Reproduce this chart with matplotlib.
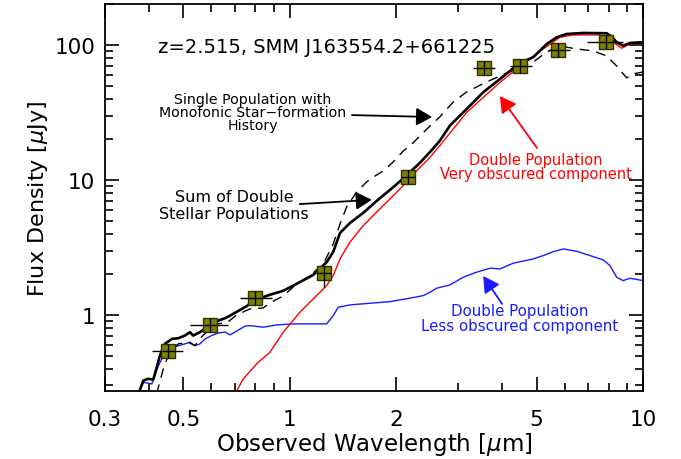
import numpy as np
import matplotlib
matplotlib.use("Agg")
import matplotlib.pyplot as plt
from matplotlib.ticker import FixedLocator, FixedFormatter, NullFormatter

# Sum of double stellar populations (black solid)
wl_sum = [0.373, 0.385, 0.397, 0.411, 0.429, 0.443, 0.464, 0.484, 0.505, 0.522,
          0.533, 0.557, 0.576, 0.594, 0.628, 0.656, 0.678, 0.755, 0.797, 0.879,
          0.959, 1.069, 1.166, 1.272, 1.328, 1.388, 1.481, 1.615, 1.762, 1.922,
          2.092, 2.337, 2.495, 2.66, 2.842, 3.17, 3.53, 3.94, 4.48, 4.89,
          5.34, 5.70, 6.08, 6.78, 7.89, 8.17, 8.42, 8.79, 9.19, 10.0]
f_sum = [0.26, 0.326, 0.336, 0.332, 0.499, 0.610, 0.664, 0.672, 0.703, 0.745,
         0.703, 0.745, 0.788, 0.843, 0.907, 0.945, 0.988, 1.16, 1.29, 1.41,
         1.51, 1.75, 1.98, 2.46, 2.93, 4.05, 4.80, 5.70, 6.99, 8.43,
         10.2, 13.4, 16.1, 19.5, 25.3, 33.6, 44.6, 56.0, 73.6, 81.1,
         101.7, 114, 120.6, 122.7, 122.1, 114.6, 104.7, 98.8, 103.5, 104.7]

# single population, monotonic SFH (black dashed)
wl_single = [0.42, 0.4386, 0.453, 0.464, 0.484, 0.516, 0.539, 0.563, 0.594, 0.621,
             0.663, 0.708, 0.771, 0.842, 0.879, 0.959, 1.046, 1.14, 1.245, 1.328,
             1.388, 1.449, 1.547, 1.651, 1.724, 1.84, 1.964, 2.096, 2.19, 2.337,
             2.495, 2.66, 2.904, 3.17, 3.61, 3.94, 4.39, 4.89, 5.34, 5.82,
             6.49, 7.23, 7.89, 8.42, 8.99, 9.38, 10.0]
f_single = [0.26, 0.398, 0.499, 0.56, 0.610, 0.628, 0.592, 0.687, 0.788, 0.858,
            0.872, 1.0, 1.107, 1.127, 1.227, 1.383, 1.697, 1.945, 2.39, 3.36,
            4.72, 6.31, 8.15, 9.66, 10.5, 11.66, 13.6, 16.4, 17.86, 21.2,
            25.1, 29.3, 37.8, 44.9, 53.2, 58.9, 66.4, 74.8, 88.7, 98.3,
            93.4, 90.3, 82.9, 69.9, 57.0, 61.0, 63.1]

# double population - very obscured component (red)
wl_obsc = [0.70, 0.739, 0.806, 0.879, 0.959, 1.069, 1.166, 1.272, 1.328, 1.388,
           1.481, 1.615, 1.762, 1.922, 2.096, 2.288, 2.495, 2.66, 3.17, 3.94,
           4.39, 5.22, 5.82, 6.35, 7.55, 8.24, 8.70, 9.19, 10.0]
f_obsc = [0.26, 0.336, 0.434, 0.529, 0.745, 1.047, 1.314, 1.648, 1.955, 2.60,
          3.46, 4.59, 5.77, 7.23, 9.07, 11.7, 14.7, 17.95, 31.7, 52.9,
          66.4, 93.4, 114, 118.6, 118.6, 104.7, 94.5, 101.7, 103.5]

# double population - less obscured component (blue)
wl_less = [0.373, 0.385, 0.407, 0.425, 0.439, 0.448, 0.479, 0.505, 0.522, 0.539,
           0.557, 0.576, 0.601, 0.628, 0.656, 0.678, 0.747, 0.771, 0.842, 0.919,
           1.023, 1.272, 1.328, 1.372, 1.481, 1.69, 1.922, 2.19, 2.388, 2.495,
           2.606, 2.842, 3.10, 3.38, 3.69, 3.94, 4.29, 4.89, 5.22, 5.57,
           5.95, 6.49, 7.08, 7.72, 8.06, 8.42, 8.79, 9.19, 10.0]
f_less = [0.26, 0.317, 0.308, 0.421, 0.499, 0.544, 0.586, 0.61, 0.628, 0.592,
          0.61, 0.664, 0.703, 0.736, 0.745, 0.711, 0.825, 0.833, 0.811, 0.843,
          0.858, 0.858, 0.988, 1.14, 1.186, 1.22, 1.254, 1.33, 1.39, 1.473,
          1.577, 1.668, 1.902, 2.072, 2.218, 2.192, 2.415, 2.60, 2.75, 2.94,
          3.08, 2.96, 2.75, 2.556, 2.32, 1.902, 1.795, 1.87, 1.795]

# photometry
phot_wl = [0.453, 0.594, 0.797, 1.25, 2.16, 3.55, 4.48, 5.73, 7.87]
phot_f = [0.544, 0.843, 1.33, 2.05, 10.5, 67.2, 69.5, 92.3, 104.7]
phot_xlo = [0.046, 0.072, 0.074, 0.0, 0.0, 0.25, 0.28, 0.34, 0.94]
phot_xhi = [0.047, 0.076, 0.092, 0.0, 0.0, 0.25, 0.36, 0.48, 0.88]
phot_ylo = [0.0, 0.0, 0.0, 0.45, 0.0, 0.0, 0.0, 0.0, 0.0]
phot_yhi = [0.0, 0.0, 0.0, 0.27, 0.0, 0.0, 0.0, 0.0, 0.0]

xticks = [0.3, 0.5, 1, 2, 5, 10]
xticklabels = ["0.3", "0.5", "1", "2", "5", "10"]
yticks = [1, 10, 100]
yticklabels = ["1", "10", "100"]


def main():
    fig = plt.figure(figsize=(6.81, 4.60), dpi=100)
    ax = fig.add_axes([0.1542, 0.1478, 0.79, 0.8413])

    ax.plot(wl_less, f_less, color="#1a1aff", lw=1.0, zorder=2)
    ax.plot(wl_obsc, f_obsc, color="red", lw=1.0, zorder=2)
    ax.plot(wl_single, f_single, color="k", lw=1.0, ls=(0, (7, 5)), zorder=3)
    ax.plot(wl_sum, f_sum, color="k", lw=1.9, zorder=3)

    ax.errorbar(phot_wl, phot_f, xerr=[phot_xlo, phot_xhi], yerr=[phot_ylo, phot_yhi],
                fmt="none", ecolor="k", elinewidth=1.0, capsize=0, zorder=4)
    ax.plot(phot_wl, phot_f, ls="none", marker="s", ms=10.5, mfc="#808000",
            mec="#303000", mew=1.0, zorder=5)
    ax.plot(phot_wl, phot_f, ls="none", marker="+", ms=10.5, mec="k", mew=1.0, zorder=6)

    ax.set_xscale("log")
    ax.set_yscale("log")
    ax.set_xlim(0.3, 10)
    ax.set_ylim(0.273, 201)

    ax.xaxis.set_major_locator(FixedLocator(xticks))
    ax.xaxis.set_major_formatter(FixedFormatter(xticklabels))
    ax.xaxis.set_minor_locator(FixedLocator([0.4, 0.6, 0.7, 0.8, 0.9, 3, 4, 6, 7, 8, 9]))
    ax.xaxis.set_minor_formatter(NullFormatter())
    ax.yaxis.set_major_locator(FixedLocator(yticks))
    ax.yaxis.set_major_formatter(FixedFormatter(yticklabels))
    ax.yaxis.set_minor_locator(FixedLocator([0.3, 0.4, 0.5, 0.6, 0.7, 0.8, 0.9,
                                             2, 3, 4, 5, 6, 7, 8, 9,
                                             20, 30, 40, 50, 60, 70, 80, 90, 200]))
    ax.yaxis.set_minor_formatter(NullFormatter())

    ax.tick_params(which="both", direction="in", top=True, right=True, width=1.2)
    ax.tick_params(which="major", length=10, labelsize=15.5)
    ax.tick_params(which="minor", length=6)
    ax.tick_params(axis="x", which="major", pad=13)
    ax.tick_params(axis="y", which="major", pad=7)
    for sp in ax.spines.values():
        sp.set_linewidth(1.3)

    ax.set_xlabel(r"Observed Wavelength [$\mu$m]", fontsize=16.5, labelpad=1)
    ax.set_ylabel(r"Flux Density [$\mu$Jy]", fontsize=16, labelpad=3)

    ax.text(0.0985, 0.891, "z=2.515, SMM J163554.2+661225", transform=ax.transAxes,
            fontsize=14, ha="left", va="center")

    arrow = dict(arrowstyle="-|>,head_length=0.8,head_width=0.45", mutation_scale=12,
                 lw=1.3, color="k", shrinkA=0, shrinkB=0)

    ax.text(0.275, 0.721, "Single Population with\nMonofonic Star\u2212formation\nHistory",
            transform=ax.transAxes, fontsize=10.2, ha="center", va="center", linespacing=0.92)
    ax.annotate("", xy=(0.608, 0.708), xytext=(0.459, 0.713), xycoords="axes fraction",
                textcoords="axes fraction", arrowprops=arrow)

    ax.text(0.24, 0.481, "Sum of Double\nStellar Populations", transform=ax.transAxes,
            fontsize=11.5, ha="center", va="center", linespacing=1.2)
    ax.annotate("", xy=(0.496, 0.494), xytext=(0.362, 0.483), xycoords="axes fraction",
                textcoords="axes fraction", arrowprops=arrow)

    ax.text(0.801, 0.579, "Double Population\nVery obscured component", transform=ax.transAxes,
            fontsize=10.5, ha="center", va="center", color="red", linespacing=0.92)
    ax.annotate("", xy=(0.734, 0.762), xytext=(0.803, 0.628), xycoords="axes fraction",
                textcoords="axes fraction", arrowprops=dict(arrow, color="red"))

    ax.text(0.771, 0.189, "Double Population\nLess obscured component", transform=ax.transAxes,
            fontsize=10.8, ha="center", va="center", color="#1a1aff", linespacing=1.0)
    ax.annotate("", xy=(0.703, 0.297), xytext=(0.738, 0.225), xycoords="axes fraction",
                textcoords="axes fraction", arrowprops=dict(arrow, color="#1a1aff"))

    fig.savefig("out.png", dpi=100)


if __name__ == "__main__":
    main()
